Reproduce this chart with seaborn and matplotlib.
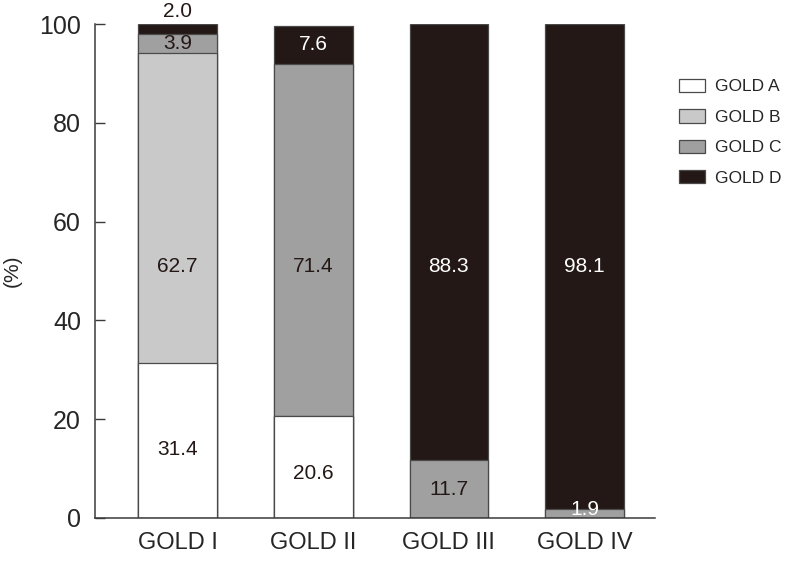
# GOLD ABCD distribution by spirometric GOLD grade

import pandas as pd
import matplotlib
matplotlib.use("Agg")
import matplotlib.pyplot as plt
import seaborn as sns
from matplotlib.patches import Patch

grades = ["GOLD I", "GOLD II", "GOLD III", "GOLD IV"]
groups = ["GOLD A", "GOLD B", "GOLD C", "GOLD D"]
gold_a = [31.4, 20.6, 0.0, 0.0]
gold_b = [62.7, 0.0, 0.0, 0.0]
gold_c = [3.9, 71.4, 11.7, 1.9]
gold_d = [2.0, 7.6, 88.3, 98.1]

colors = ["#ffffff", "#c9c9c9", "#a0a0a0", "#231815"]

df = pd.DataFrame({"grade": grades, "GOLD A": gold_a, "GOLD B": gold_b,
                   "GOLD C": gold_c, "GOLD D": gold_d})
cum = df[groups].cumsum(axis=1)
cum["grade"] = grades

sns.set_style("ticks")
plt.rcParams["font.family"] = ["Liberation Sans", "DejaVu Sans"]

fig = plt.figure(figsize=(7.91, 5.63), dpi=100)
ax = fig.add_axes([0.12, 0.08, 0.708, 0.877])

# draw cumulative heights from the top layer down to get a stacked look
for grp, col in reversed(list(zip(groups, colors))):
    sns.barplot(data=cum, x="grade", y=grp, color=col, width=0.58,
                edgecolor="#4a4a4a", linewidth=0.9, saturation=1, ax=ax)

# value labels
for i, g in enumerate(grades):
    base = 0
    for grp in groups:
        v = df.loc[i, grp]
        if v > 0:
            if v > 50:
                y, c = 51, "#231815" if grp != "GOLD D" else "white"
            elif grp == "GOLD D" and v < 3:
                y, c = 102.6, "#231815"
            elif grp == "GOLD C" and v < 3:
                y, c = 1.8, "white"
            else:
                y = base + v / 2
                c = "white" if grp == "GOLD D" else "#231815"
            if grp == "GOLD A":
                y = base + v * 0.44
            ax.text(i, y, f"{v:.1f}", ha="center", va="center",
                    fontsize=15, color=c, clip_on=False)
        base += v

ax.set_xlim(-0.61, 3.52)
ax.set_ylim(0, 100)
ax.set_yticks([0, 20, 40, 60, 80, 100])
ax.set_xlabel("")
ax.set_ylabel("(%)", fontsize=15)
ax.yaxis.set_label_coords(-0.13, 0.5)
ax.tick_params(axis="y", direction="in", length=7, width=1, labelsize=18,
               color="#3a3a3a", pad=10)
ax.tick_params(axis="x", length=0, labelsize=17, pad=10)
for s in ["left", "bottom"]:
    ax.spines[s].set_color("#3a3a3a")
    ax.spines[s].set_linewidth(1.1)
sns.despine(ax=ax)

handles = [Patch(facecolor=c, edgecolor="#4a4a4a", linewidth=0.9) for c in colors]
fig.legend(handles, groups, loc="upper left", bbox_to_anchor=(0.858, 0.86),
           frameon=False, fontsize=12.5, handlelength=1.5, handleheight=0.8,
           labelspacing=0.85, handletextpad=0.6, borderpad=0, borderaxespad=0)

fig.savefig("out.png", dpi=100)
